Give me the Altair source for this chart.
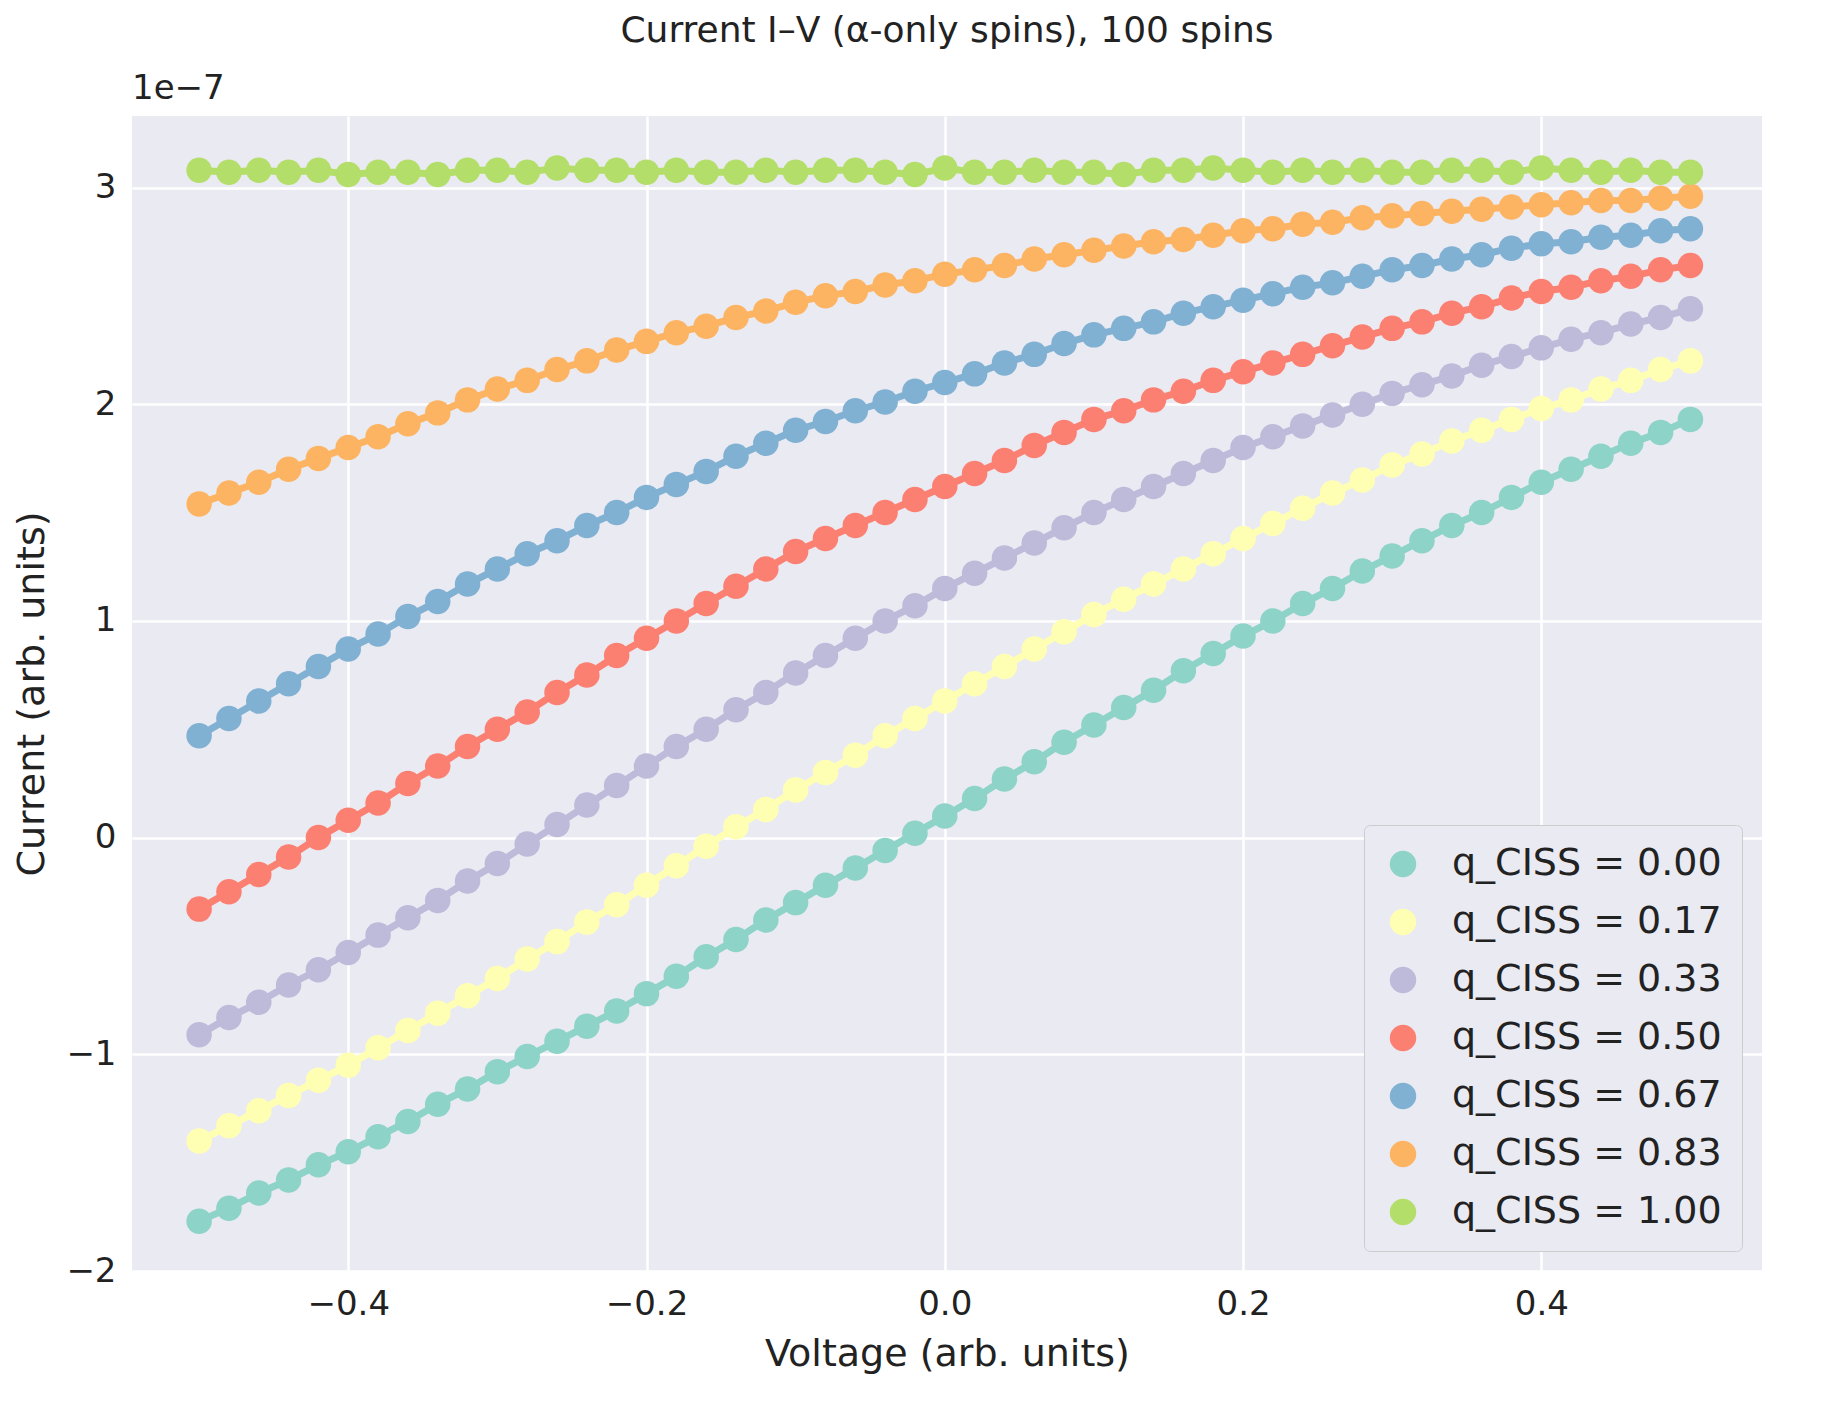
import altair as alt
import pandas as pd

voltage = [round(-0.5 + 0.02 * i, 2) for i in range(51)]
labels = ["q_CISS = 0.00", "q_CISS = 0.17", "q_CISS = 0.33", "q_CISS = 0.50",
          "q_CISS = 0.67", "q_CISS = 0.83", "q_CISS = 1.00"]
colors = ["#8dd3c7", "#ffffb3", "#bebada", "#fb8072", "#80b1d3", "#fdb462", "#b3de69"]

# currents in units of 1e-7
q000 = [-1.77, -1.71, -1.64, -1.58, -1.51, -1.45, -1.38, -1.31, -1.23, -1.16,
        -1.08, -1.01, -0.94, -0.87, -0.80, -0.72, -0.64, -0.55, -0.47, -0.38,
        -0.30, -0.22, -0.14, -0.06, 0.02, 0.10, 0.18, 0.27, 0.35, 0.44,
        0.52, 0.60, 0.68, 0.77, 0.85, 0.93, 1.00, 1.08, 1.15, 1.23,
        1.30, 1.37, 1.44, 1.50, 1.57, 1.64, 1.70, 1.76, 1.82, 1.87, 1.93]
q017 = [-1.40, -1.33, -1.26, -1.19, -1.12, -1.05, -0.97, -0.89, -0.81, -0.73,
        -0.65, -0.56, -0.48, -0.39, -0.31, -0.22, -0.13, -0.04, 0.05, 0.13,
        0.22, 0.30, 0.38, 0.47, 0.55, 0.63, 0.71, 0.79, 0.87, 0.95,
        1.03, 1.10, 1.17, 1.24, 1.31, 1.38, 1.45, 1.52, 1.59, 1.65,
        1.72, 1.77, 1.83, 1.88, 1.93, 1.98, 2.02, 2.07, 2.11, 2.16, 2.20]
q033 = [-0.91, -0.83, -0.76, -0.68, -0.61, -0.53, -0.45, -0.37, -0.29, -0.20,
        -0.12, -0.03, 0.06, 0.15, 0.24, 0.33, 0.42, 0.50, 0.59, 0.67,
        0.76, 0.84, 0.92, 1.00, 1.07, 1.15, 1.22, 1.29, 1.36, 1.43,
        1.50, 1.56, 1.62, 1.68, 1.74, 1.80, 1.85, 1.90, 1.95, 2.00,
        2.05, 2.09, 2.13, 2.18, 2.22, 2.26, 2.30, 2.33, 2.37, 2.40, 2.44]
q050 = [-0.33, -0.25, -0.17, -0.09, 0.00, 0.08, 0.16, 0.25, 0.33, 0.42,
        0.50, 0.58, 0.67, 0.75, 0.84, 0.92, 1.00, 1.08, 1.16, 1.24,
        1.32, 1.38, 1.44, 1.50, 1.56, 1.62, 1.68, 1.74, 1.81, 1.87,
        1.93, 1.97, 2.02, 2.06, 2.11, 2.15, 2.19, 2.23, 2.27, 2.31,
        2.35, 2.38, 2.42, 2.45, 2.49, 2.52, 2.54, 2.57, 2.59, 2.62, 2.64]
q067 = [0.47, 0.55, 0.63, 0.71, 0.79, 0.87, 0.94, 1.02, 1.09, 1.17,
        1.24, 1.31, 1.37, 1.44, 1.50, 1.57, 1.63, 1.69, 1.76, 1.82,
        1.88, 1.92, 1.97, 2.01, 2.06, 2.10, 2.14, 2.19, 2.23, 2.28,
        2.32, 2.35, 2.38, 2.42, 2.45, 2.48, 2.51, 2.54, 2.56, 2.59,
        2.62, 2.64, 2.67, 2.69, 2.72, 2.74, 2.75, 2.77, 2.78, 2.80, 2.81]
q083 = [1.54, 1.59, 1.64, 1.70, 1.75, 1.80, 1.85, 1.91, 1.96, 2.02,
        2.07, 2.11, 2.16, 2.20, 2.25, 2.29, 2.33, 2.36, 2.40, 2.43,
        2.47, 2.50, 2.52, 2.55, 2.57, 2.60, 2.62, 2.64, 2.67, 2.69,
        2.71, 2.73, 2.75, 2.76, 2.78, 2.80, 2.81, 2.83, 2.84, 2.86,
        2.87, 2.88, 2.89, 2.90, 2.91, 2.92, 2.93, 2.94, 2.94, 2.95, 2.96]
q100 = [3.08, 3.07, 3.08, 3.07, 3.08, 3.06, 3.07, 3.07, 3.06, 3.08,
        3.08, 3.07, 3.09, 3.08, 3.08, 3.07, 3.08, 3.07, 3.07, 3.08,
        3.07, 3.08, 3.08, 3.07, 3.06, 3.09, 3.07, 3.07, 3.08, 3.07,
        3.07, 3.06, 3.08, 3.08, 3.09, 3.08, 3.07, 3.08, 3.07, 3.08,
        3.07, 3.07, 3.08, 3.08, 3.07, 3.09, 3.08, 3.07, 3.08, 3.07, 3.07]

rows = []
for i, (lab, vals) in enumerate(zip(labels, [q000, q017, q033, q050, q067, q083, q100])):
    for v, c in zip(voltage, vals):
        rows.append({"V": v, "I": c, "q": lab, "order": i})
df = pd.DataFrame(rows)

font = "DejaVu Sans"
xs = alt.X("V:Q", title="Voltage (arb. units)", scale=alt.Scale(domain=[-0.545, 0.548], nice=False),
           axis=alt.Axis(values=[-0.4, -0.2, 0.0, 0.2, 0.4], format=".1f"))
ys = alt.Y("I:Q", title="Current (arb. units)", scale=alt.Scale(domain=[-2, 3.33], nice=False),
           axis=alt.Axis(values=[-2, -1, 0, 1, 2, 3], format="d"))
col = alt.Color("q:N", sort=labels, scale=alt.Scale(domain=labels, range=colors),
                legend=alt.Legend(title=None, orient="bottom-right", symbolType="circle",
                                  symbolSize=700, labelFontSize=38, labelFont=font, labelLimit=0,
                                  rowPadding=20, padding=20, offset=20, labelOffset=30,
                                  fillColor="#eaeaf2", strokeColor="#cccccc",
                                  cornerRadius=6, symbolStrokeWidth=0, labelColor="#222222"))

base = alt.Chart(df).encode(x=xs, y=ys, color=col, detail="q:N")
lines = base.mark_line(strokeWidth=7)
points = base.mark_circle(size=650, opacity=1)

note = alt.Chart(pd.DataFrame({"t": ["1e\u22127"]})).mark_text(
    align="left", baseline="bottom", fontSize=34, font=font, color="#222222"
).encode(x=alt.value(0), y=alt.value(-10), text="t:N")

chart = alt.layer(lines, points, note).properties(
    width=1630, height=1155,
    title=alt.TitleParams("Current I\u2013V (\u03b1-only spins), 100 spins",
                          fontSize=36, font=font, fontWeight="normal", color="#222222", offset=22),
).configure_view(fill="#eaeaf2", stroke=None).configure_axis(
    grid=True, gridColor="white", gridWidth=2.5, domain=False, ticks=False,
    labelFontSize=34, titleFontSize=38, labelFont=font, titleFont=font,
    labelColor="#222222", titleColor="#222222", titleFontWeight="normal", labelPadding=16,
    titlePadding=14,
)

chart.save("out.html", embed_options={"renderer": "svg", "actions": False})
